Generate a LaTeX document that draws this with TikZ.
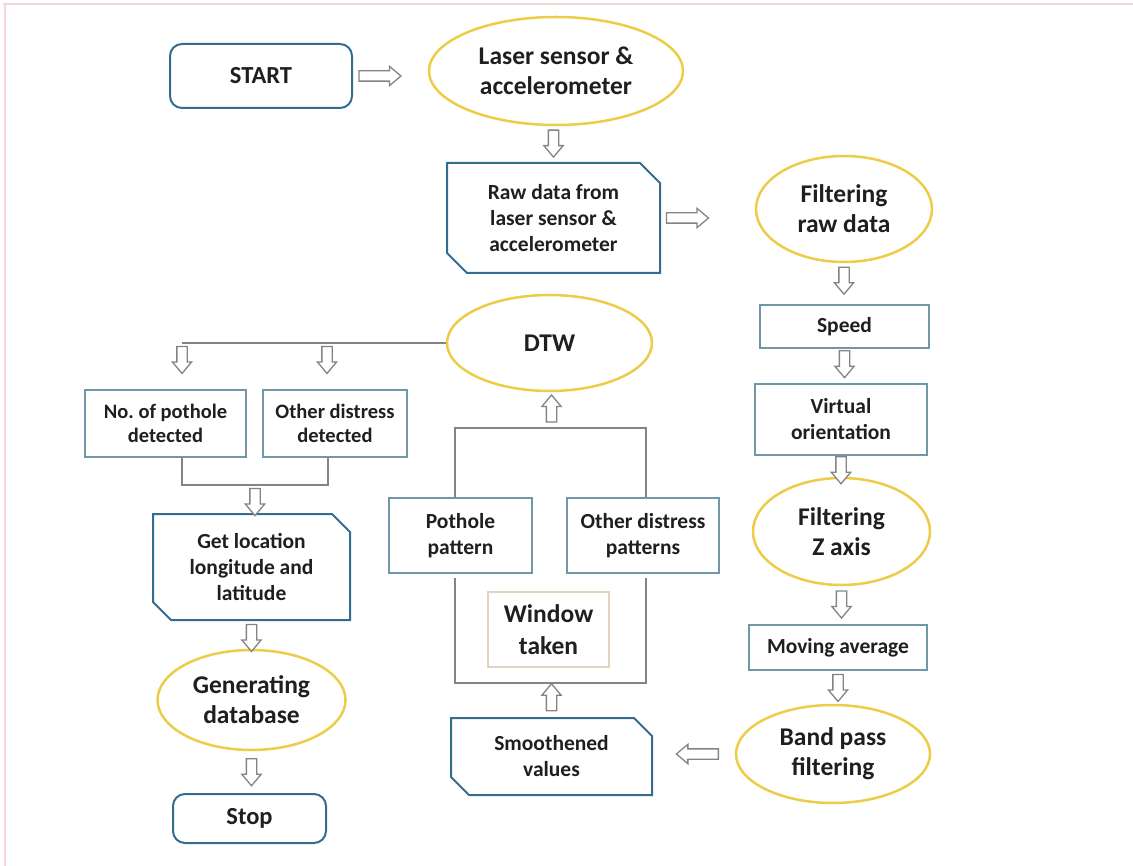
\documentclass[tikz,border=0pt]{standalone}
\usepackage{fontspec}
\setmainfont{Carlito}
\usepackage{tikz}
\usetikzlibrary{calc,shapes.geometric,shapes.misc,shapes.arrows}
\definecolor{termblue}{RGB}{52,108,145}
\definecolor{ovalyellow}{RGB}{236,204,72}
\definecolor{boxedge}{RGB}{112,150,168}
\definecolor{winedge}{RGB}{224,212,188}
\definecolor{linegray}{RGB}{132,132,132}
\definecolor{pinkedge}{RGB}{242,214,216}
\newcommand{\boxfont}{\fontsize{21.5}{26}\selectfont\bfseries}
\newcommand{\ovalfont}{\fontsize{25.5}{30}\selectfont\bfseries}
\newcommand{\edgewidth}{1.3pt}

\tikzset{
  every node/.style={align=center, text=black!88, inner sep=0pt},
  term/.style={draw=termblue, line width=2pt, rounded corners=12pt, font=\fontsize{24.5}{27}\selectfont\bfseries},
  oval/.style={ellipse, draw=ovalyellow, line width=2.5pt, font=\ovalfont},
  databox/.style={chamfered rectangle, chamfered rectangle corners={north east,south west},
    chamfered rectangle xsep=10pt, chamfered rectangle ysep=10pt,
    draw=termblue, line width=2pt, font=\boxfont},
  plainbox/.style={rectangle, draw=boxedge, line width=\edgewidth, font=\boxfont},
  harrow/.style={single arrow, draw=linegray, fill=white, line width=\edgewidth,
    inner sep=4.5pt, single arrow head extend=4.5pt, single arrow tip angle=80,
    minimum height=27pt, sloped, allow upside down},
  conn/.style={draw=linegray, line width=2pt}
}

\begin{document}
\begin{tikzpicture}[x=1pt,y=-1pt]
\useasboundingbox (0,0) rectangle (1133,866);
\draw[pinkedge, line width=2pt] (3,4) -- (1133,4);
\draw[pinkedge, line width=2pt] (5,4) -- (5,866);
%top row
\node[term, minimum width=182pt, minimum height=64pt] (start) at (261,76) {START};
\node[oval, minimum width=254pt, minimum height=108pt] (laser) at (556,71) {Laser sensor \&\\accelerometer};
\node[databox, minimum width=213pt, minimum height=110pt] (raw) at (553.5,218) {Raw data from\\laser sensor \&\\accelerometer};
%right column
\node[oval, minimum width=176pt, minimum height=106pt] (filt) at (844,209) {Filtering\\raw data};
\node[plainbox, minimum width=169pt, minimum height=43pt] (speed) at (844.5,326.5) {Speed};
\node[plainbox, minimum width=172pt, minimum height=71pt] (virt) at (841,419.5) {Virtual\\orientation};
\node[oval, minimum width=177pt, minimum height=107pt] (filtz) at (841.5,531.5) {Filtering\\Z axis};
\node[plainbox, minimum width=178pt, minimum height=45pt] (mavg) at (838,647.5) {Moving average};
\node[oval, minimum width=194pt, minimum height=98pt] (band) at (833,754) {Band pass\\filtering};
%middle column
\node[databox, minimum width=201pt, minimum height=77pt, chamfered rectangle xsep=9pt, chamfered rectangle ysep=9pt] (smooth) at (551.5,756.5) {Smoothened\\values};
\node[rectangle, draw=winedge, line width=\edgewidth, minimum width=121pt, minimum height=75pt, font=\fontsize{25.5}{32}\selectfont\bfseries] (win) at (548.5,629.5) {Window\\taken};
\node[plainbox, minimum width=143pt, minimum height=75pt] (pot) at (460.5,535.5) {Pothole\\pattern};
\node[plainbox, minimum width=152pt, minimum height=75pt] (oth) at (643,535.5) {Other distress\\patterns};
\node[oval, minimum width=205pt, minimum height=96pt] (dtw) at (549.5,343) {DTW};
%left column
\node[plainbox, minimum width=161pt, minimum height=67pt, font=\fontsize{20.5}{24}\selectfont\bfseries] (nopot) at (165.5,423.5) {No.\ of pothole\\detected};
\node[plainbox, minimum width=144pt, minimum height=67pt, font=\fontsize{20.5}{24}\selectfont\bfseries] (othd) at (335,423.5) {Other distress\\detected};
\node[databox, minimum width=197pt, minimum height=106pt, chamfered rectangle xsep=9pt, chamfered rectangle ysep=9pt] (loc) at (251.5,567) {Get location\\longitude and\\latitude};
\node[oval, minimum width=188pt, minimum height=100pt] (gen) at (251.5,700) {Generating\\database};
\node[term, minimum width=153pt, minimum height=49pt] (stop) at (249.5,818.5) {Stop};

%junctions
\coordinate (j1) at (182,343);
\coordinate (j2) at (327,343);
\coordinate (k1) at (182,485);
\coordinate (k2) at (328,485);
\coordinate (k3) at (255,485);
\coordinate (utl) at (455,428);
\coordinate (utr) at (646,428);
\coordinate (ubl) at (455,683);
\coordinate (ubr) at (646,683);

%lines
\draw[conn] (dtw.west) -- (j1);
\draw[conn] (j1 |- nopot.south) -- (k1) -- (k2) -- (k2 |- othd.south);
\draw[conn] (utl |- pot.north) -- (utl) -- (utr) -- (utr |- oth.north);
\draw[conn] ([yshift=-4pt]ubl |- pot.south) -- (ubl) -- (ubr) -- ([yshift=-4pt]ubr |- oth.south);

%hollow arrows
\path (start.east) -- node[harrow, minimum height=42pt, pos=0.32] {} (start.east -| laser.west);
\path (raw.north |- laser.south) -- node[harrow, pos=0.4] {} (raw.north);
\path (raw.east) -- node[harrow, minimum height=42pt, pos=0.25] {} (raw.east -| filt.west);
\path (filt.south) -- node[harrow, pos=0.35] {} (filt.south |- speed.north);
\path (speed.south) -- node[harrow, pos=0.36] {} (speed.south |- virt.north);
\path (virt.south) -- node[harrow, pos=0.55] {} (virt.south |- filtz.north);
\path (filtz.south) -- node[harrow, pos=0.4] {} (filtz.south |- mavg.north);
\path (mavg.south) -- node[harrow, pos=0.43] {} (mavg.south |- band.north);
\path (band.west) -- node[harrow, minimum height=42pt, pos=0.42] {} (band.west -| smooth.east);
\path (smooth.north) -- node[harrow, pos=0.49] {} (smooth.north |- ubl);
\path (smooth.north |- utl) -- node[harrow, pos=0.46] {} (smooth.north |- dtw.south);
\path (j1) -- node[harrow, pos=0.3] {} (j1 |- nopot.north);
\path (j2) -- node[harrow, pos=0.3] {} (j2 |- othd.north);
\path (k3) -- node[harrow, pos=0.5] {} (k3 |- loc.north);
\path (loc.south) -- node[harrow, pos=0.5] {} (loc.south |- gen.north);
\path (gen.south) -- node[harrow, pos=0.43] {} (gen.south |- stop.north);
\end{tikzpicture}
\end{document}
